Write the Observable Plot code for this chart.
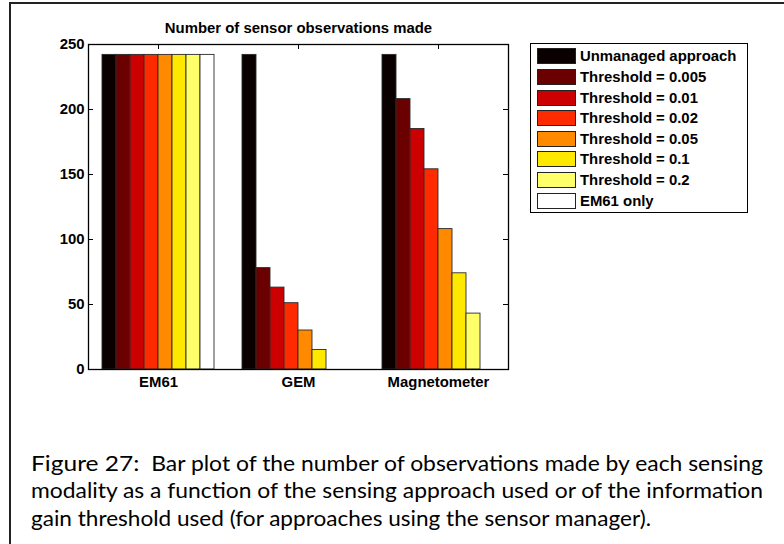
<!DOCTYPE html>
<html>
<head>
<meta charset="utf-8">
<script src="https://cdn.jsdelivr.net/npm/d3@7"></script>
<script src="https://cdn.jsdelivr.net/npm/@observablehq/plot@0.6"></script>
<style>
html, body { margin: 0; padding: 0; background: #fff; }
#page { position: relative; width: 784px; height: 544px; overflow: hidden; background: #fff; }
#chart { position: absolute; left: 0; top: 0; }
#frame { position: absolute; left: 9px; top: 2px; width: 900px; height: 700px;
  border-left: 2px solid #222; border-top: 2px solid #222; pointer-events: none; }
#legend { position: absolute; left: 530px; top: 43px; width: 216px; height: 168px;
  border: 1px solid #000; background: #fff;
  font-family: "Liberation Sans", Arial, sans-serif; font-weight: bold; font-size: 14.9px; color: #000; }
#legend .sw { position: absolute; left: 6px; width: 37px; height: 14px; border: 1px solid #222; box-sizing: content-box; }
#legend .lab { position: absolute; left: 49px; height: 16px; line-height: 16px; white-space: nowrap; }
#caption { position: absolute; left: 0; top: 0; }
</style>
</head>
<body>
<div id="page">
  <div id="chart"></div>
  <div id="legend"></div>
  <svg id="caption" width="784" height="544"></svg>
  <div id="frame"></div>
</div>
<script>
// ---- data ----
const groups = ["EM61", "GEM", "Magnetometer"];
const seriesNames = [
  "Unmanaged approach",
  "Threshold = 0.005",
  "Threshold = 0.01",
  "Threshold = 0.02",
  "Threshold = 0.05",
  "Threshold = 0.1",
  "Threshold = 0.2",
  "EM61 only"
];
const seriesColors = ["#0a0000", "#6b0000", "#cc0000", "#ff2b00", "#ff8a00", "#ffe800", "#ffff6a", "#ffffff"];
// values per series, in the order of groups
const unmanaged = [242, 242, 242];
const thr0005   = [242, 78, 208];
const thr001    = [242, 63, 185];
const thr002    = [242, 51, 154];
const thr005    = [242, 30, 108];
const thr01     = [242, 15, 74];
const thr02     = [242, 0, 43];
const em61Only  = [242, 0, 0];
const yTicks = [0, 50, 100, 150, 200, 250];
const titleText = "Number of sensor observations made";
const captionLabel = "Figure 27:";
const captionLines = [
  "  Bar plot of the number of observations made by each sensing",
  "modality as a function of the sensing approach used or of the information",
  "gain threshold used (for approaches using the sensor manager)."
];

const seriesValues = [unmanaged, thr0005, thr001, thr002, thr005, thr01, thr02, em61Only];
const groupWidth = 0.8;
const nS = seriesNames.length;
const rows = groups.flatMap((g, gi) =>
  seriesValues.map((vals, si) => ({group: g, gi, series: seriesNames[si], si, value: vals[gi]}))
);
const barStart = d => d.gi + 1 - groupWidth / 2 + d.si * groupWidth / nS;
const barEnd = d => d.gi + 1 - groupWidth / 2 + (d.si + 1) * groupWidth / nS;
const groupPos = groups.map((g, i) => i + 1);

const font = "Liberation Sans, Arial, sans-serif";
const fs = 14.9;

const chart = Plot.plot({
  width: 784,
  height: 400,
  marginLeft: 88,
  marginRight: 276,
  marginTop: 44,
  marginBottom: 31,
  style: {fontFamily: font, fontWeight: "bold", fontSize: fs + "px", color: "#000", background: "transparent"},
  x: {domain: [0.5, 3.5], axis: null},
  y: {domain: [0, 250], axis: null},
  color: {domain: seriesNames, range: seriesColors},
  marks: [
    Plot.tickY(yTicks, {y: d => d, insetRight: 415, stroke: "#000"}),
    Plot.tickY(yTicks, {y: d => d, insetLeft: 415, stroke: "#000"}),
    Plot.tickX(groupPos, {x: d => d, insetBottom: 320, stroke: "#000"}),
    Plot.tickX(groupPos, {x: d => d, insetTop: 320, stroke: "#000"}),
    Plot.rect(rows, {x1: barStart, x2: barEnd, y1: 0, y2: "value", fill: "series", stroke: "#2a2a2a", strokeWidth: 0.9}),
    Plot.frame({stroke: "#000", strokeWidth: 1.3}),
    Plot.axisY({ticks: yTicks, tickSize: 0, tickPadding: 4, label: null, fontSize: fs, fontWeight: "bold", fill: "#000"}),
    Plot.axisX({ticks: groupPos, tickFormat: i => groups[i - 1], tickSize: 0, tickPadding: 7, label: null, fontSize: fs, fontWeight: "bold", fill: "#000"}),
    Plot.text([titleText], {text: d => d, frameAnchor: "top", lineAnchor: "middle", dy: -16, fontSize: fs, fontWeight: "bold", fill: "#000"})
  ]
});
document.getElementById("chart").appendChild(chart);

// ---- legend (built from series arrays) ----
const legend = d3.select("#legend");
seriesNames.forEach((name, i) => {
  const top = 4.3 + i * 20.6;
  legend.append("div").attr("class", "sw")
    .style("top", top + "px")
    .style("background", seriesColors[i]);
  legend.append("div").attr("class", "lab")
    .style("top", top + "px")
    .text(name);
});

// ---- caption ----
const cap = d3.select("#caption");
const capFont = "Lato, 'Open Sans', sans-serif";
const baselines = [470.5, 498.3, 526];
const widths = [732, 732, 620];
captionLines.forEach((line, i) => {
  const t = cap.append("text")
    .attr("x", 31).attr("y", baselines[i])
    .attr("textLength", widths[i]).attr("lengthAdjust", "spacingAndGlyphs")
    .style("white-space", "pre")
    .style("font-family", capFont).style("font-size", "20.5px").style("fill", "#000");
  if (i === 0) {
    t.append("tspan").style("font-size", "22px").text(captionLabel);
    t.append("tspan").text(line);
  } else {
    t.text(line);
  }
});
</script>
</body>
</html>
